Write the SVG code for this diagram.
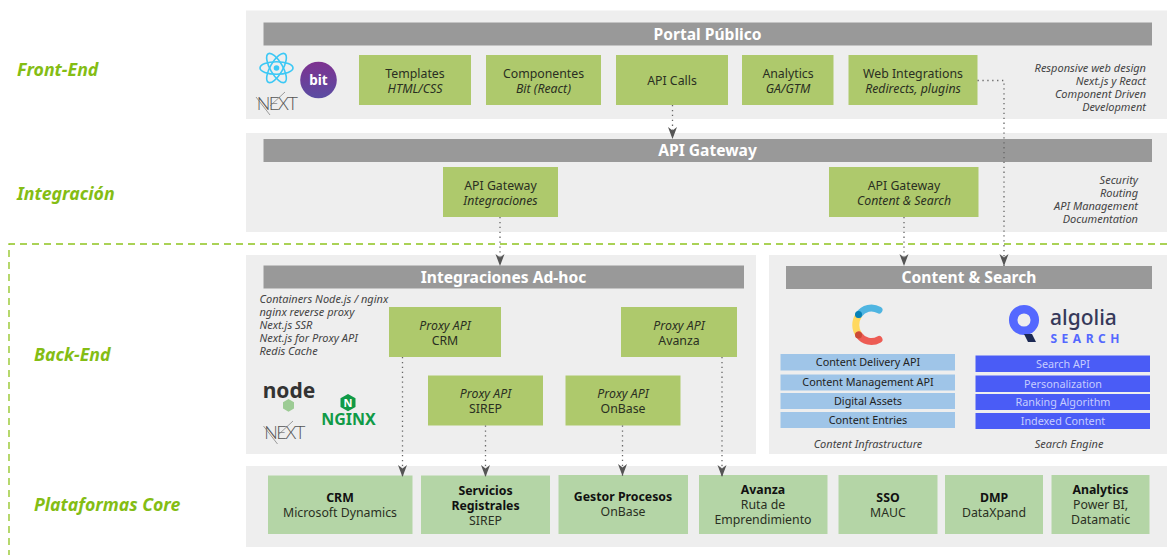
<svg xmlns="http://www.w3.org/2000/svg" width="1167" height="555" viewBox="0 0 1167 555">
<style>
text{font-family:"Noto Sans","Open Sans","Liberation Sans",sans-serif;text-anchor:middle}
.panel{fill:#eeeeee}
.bar{fill:#999999}
.bart{fill:#fff;font-size:15.600px;font-weight:700}
.g{fill:#aec96c}
.c{fill:#b4d5a6}
.t{fill:#2a2f22;font-size:12.300px}
.i{font-style:italic}
.b{font-weight:700;fill:#111}
.note{fill:#444;font-size:11px;font-style:italic}
.r{text-anchor:end}
.l{text-anchor:start}
.layer{fill:#84bd14;font-size:17.700px;font-weight:700;font-style:italic;text-anchor:start}
.lb{fill:#9fc5e8}
.db{fill:#4a5cf6}
.s{font-size:10.800px;fill:#222}
.sw{font-size:10.800px;fill:#c6ccff}
.con{fill:none;stroke:#666;stroke-width:1.300;stroke-dasharray:1.300 3.600}
.zone{fill:none;stroke:#8fc31f;stroke-width:1.300;stroke-dasharray:7 5}
.next{font-family:Lato,Roboto,sans-serif;font-weight:300;font-size:18px;letter-spacing:-1.500px;fill:#555}
</style>
<defs>
<marker id="ahv" markerUnits="userSpaceOnUse" markerWidth="13" markerHeight="10" refX="12" refY="5" orient="auto" viewBox="0 0 13 10"><path d="M0 0.500L12 5L0 9.500L3.500 5Z" fill="#555"/></marker>
<linearGradient id="bitg" x1="0" y1="0" x2="0" y2="1"><stop offset="0" stop-color="#7e3290"/><stop offset="1" stop-color="#5a4ca2"/></linearGradient>
</defs>

<g id="zone-boundary"><path class="zone" d="M1167 244H9V555"/></g>

<g id="layer-labels">
<text class="layer" x="17" y="75.500">Front-End</text>
<text class="layer" x="17" y="200">Integración</text>
<text class="layer" x="34" y="360.500">Back-End</text>
<text class="layer" x="34" y="510.500">Plataformas Core</text>
</g>

<g id="portal-publico">
<rect class="panel" x="246" y="10.500" width="921" height="108.500"/>
<rect class="bar" x="263.500" y="22.500" width="888.500" height="23"/>
<text class="bart" x="707.500" y="39.500">Portal Público</text>
<text class="note r" x="1146" y="71.500">Responsive web design</text>
<text class="note r" x="1146" y="84.500">Next.js y React</text>
<text class="note r" x="1146" y="97.500">Component Driven</text>
<text class="note r" x="1146" y="110.500">Development</text>
</g>
<g id="logo-react" fill="none" stroke="#3cc8f5" stroke-width="1.600">
<ellipse cx="276.500" cy="68" rx="16.500" ry="6.200"/>
<ellipse cx="276.500" cy="68" rx="16.500" ry="6.200" transform="rotate(60 276.500 68)"/>
<ellipse cx="276.500" cy="68" rx="16.500" ry="6.200" transform="rotate(120 276.500 68)"/>
<circle cx="276.500" cy="68" r="2.800" fill="#3cc8f5" stroke="none"/>
</g>
<g id="logo-bit"><circle cx="318.500" cy="80" r="18.300" fill="url(#bitg)"/><text x="318.500" y="85" fill="#fff" font-size="13.500" font-weight="700">bit</text></g>
<g id="logo-next-front"><text class="next" x="276.500" y="109.500">NEXT</text><path d="M256 97L270 115M285 92L270 106" fill="none" stroke="#777" stroke-width=".7"/></g>

<g id="templates"><rect class="g" x="359" y="55" width="112" height="50"/><text class="t" x="415" y="77.500">Templates</text><text class="t i" x="415" y="92.500">HTML/CSS</text></g>
<g id="componentes"><rect class="g" x="486" y="55" width="115" height="50"/><text class="t" x="543.500" y="77.500">Componentes</text><text class="t i" x="543.500" y="92.500">Bit (React)</text></g>
<g id="api-calls"><rect class="g" x="616" y="55" width="112" height="50"/><text class="t" x="672" y="85">API Calls</text></g>
<g id="analytics"><rect class="g" x="742" y="55" width="91.500" height="50"/><text class="t" x="788" y="77.500">Analytics</text><text class="t i" x="788" y="92.500">GA/GTM</text></g>
<g id="web-integrations"><rect class="g" x="848.500" y="55" width="129" height="50"/><text class="t" x="913" y="77.500">Web Integrations</text><text class="t i" x="913" y="92.500">Redirects, plugins</text></g>

<g id="api-gateway">
<rect class="panel" x="246" y="133" width="921" height="99"/>
<rect class="bar" x="263.500" y="139" width="888.500" height="23"/>
<text class="bart" x="707.500" y="156">API Gateway</text>
<text class="note r" x="1138" y="183.500">Security</text>
<text class="note r" x="1138" y="196.500">Routing</text>
<text class="note r" x="1138" y="209.500">API Management</text>
<text class="note r" x="1138" y="222.500">Documentation</text>
</g>
<g id="gw-integraciones"><rect class="g" x="443" y="167" width="115" height="50"/><text class="t" x="500.500" y="189.500">API Gateway</text><text class="t i" x="500.500" y="204.500">Integraciones</text></g>
<g id="gw-content"><rect class="g" x="829" y="167" width="149.500" height="50"/><text class="t" x="904" y="189.500">API Gateway</text><text class="t i" x="904" y="204.500">Content &amp; Search</text></g>

<g id="integraciones-adhoc">
<rect class="panel" x="246" y="255" width="510" height="199"/>
<rect class="bar" x="263.500" y="265.500" width="480.500" height="23"/>
<text class="bart" x="503.500" y="283">Integraciones Ad-hoc</text>
<text class="note l" x="259.500" y="302.500">Containers Node.js / nginx</text>
<text class="note l" x="259.500" y="316">nginx reverse proxy</text>
<text class="note l" x="259.500" y="329">Next.js SSR</text>
<text class="note l" x="259.500" y="342">Next.js for Proxy API</text>
<text class="note l" x="259.500" y="355">Redis Cache</text>
</g>
<g id="logo-node"><text x="289" y="398" fill="#333" font-size="21" font-weight="700">node</text><path d="M288.500 399l5.500 3.200v6.400l-5.500 3.200-5.500-3.200v-6.400z" fill="#9ccb94"/></g>
<g id="logo-nginx"><path d="M348 394l7.500 4.300v8.600l-7.500 4.300-7.500-4.300v-8.600z" fill="#109a47"/><text x="348" y="406.500" fill="#fff" font-size="11" font-weight="700">N</text><text x="348.500" y="425" fill="#109a47" font-size="16" font-weight="700">NGINX</text></g>
<g id="logo-next-back"><text class="next" x="284" y="439">NEXT</text><path d="M263.500 426L277.500 444M293 421L278 435" fill="none" stroke="#777" stroke-width=".7"/></g>

<g id="proxy-crm"><rect class="g" x="389" y="307" width="112" height="50"/><text class="t i" x="445" y="329.500">Proxy API</text><text class="t" x="445" y="344.500">CRM</text></g>
<g id="proxy-avanza"><rect class="g" x="621" y="307" width="116" height="50"/><text class="t i" x="679" y="329.500">Proxy API</text><text class="t" x="679" y="344.500">Avanza</text></g>
<g id="proxy-sirep"><rect class="g" x="428" y="375.500" width="115" height="50"/><text class="t i" x="485.500" y="398">Proxy API</text><text class="t" x="485.500" y="413">SIREP</text></g>
<g id="proxy-onbase"><rect class="g" x="565.500" y="375.500" width="115" height="50"/><text class="t i" x="623" y="398">Proxy API</text><text class="t" x="623" y="413">OnBase</text></g>

<g id="content-search">
<rect class="panel" x="769" y="255" width="398" height="199"/>
<rect class="bar" x="786" y="266" width="366" height="23"/>
<text class="bart" x="969" y="283">Content &amp; Search</text>
</g>
<g id="logo-contentful" fill="none" stroke-width="7" stroke-linecap="round">
<path d="M859 315A17 17 0 0 0 859 335" stroke="#ffd85f"/>
<path d="M859 314.500A15 15 0 0 1 879 310" stroke="#4fb5e1"/>
<path d="M859 335A15 15 0 0 0 879 339.500" stroke="#ed5c54"/>
<circle cx="858.500" cy="314.500" r="3.500" fill="#0681b6" stroke="none"/>
<circle cx="858.500" cy="335" r="3.500" fill="#cc4a36" stroke="none"/>
</g>
<g id="logo-algolia">
<circle cx="1024" cy="320" r="10.800" fill="none" stroke="#5468ff" stroke-width="8.500"/>
<path d="M1024 334h8l4 8h-8z" fill="#1d2a55"/>
<text class="l" x="1050" y="325" fill="#36395a" font-size="21" font-weight="500">algolia</text>
<text class="l" x="1050.500" y="343" fill="#5468ff" font-size="12" font-weight="700" style="letter-spacing:4.500px">SEARCH</text>
</g>
<g id="contentful-stack">
<rect class="lb" x="780.500" y="354" width="174.500" height="16.500"/><text class="s" x="868" y="366">Content Delivery API</text>
<rect class="lb" x="780.500" y="374.500" width="174.500" height="16"/><text class="s" x="868" y="386">Content Management API</text>
<rect class="lb" x="780.500" y="393" width="174.500" height="16"/><text class="s" x="868" y="405">Digital Assets</text>
<rect class="lb" x="780.500" y="412" width="174.500" height="16"/><text class="s" x="868" y="424">Content Entries</text>
<text class="note" x="868" y="447.500">Content Infrastructure</text>
</g>
<g id="algolia-stack">
<rect class="db" x="975.500" y="355.500" width="174.500" height="16.500"/><text class="sw" x="1063" y="368">Search API</text>
<rect class="db" x="975.500" y="375.500" width="174.500" height="16.500"/><text class="sw" x="1063" y="387.500">Personalization</text>
<rect class="db" x="975.500" y="394" width="174.500" height="16"/><text class="sw" x="1063" y="406">Ranking Algorithm</text>
<rect class="db" x="975.500" y="413" width="174.500" height="16"/><text class="sw" x="1063" y="425">Indexed Content</text>
<text class="note" x="1069" y="448">Search Engine</text>
</g>

<g id="plataformas-core"><rect class="panel" x="246" y="466" width="921" height="81"/></g>
<g id="core-crm"><rect class="c" x="268" y="475.500" width="144.500" height="58.500"/><text class="t b" x="340" y="502">CRM</text><text class="t" x="340" y="517">Microsoft Dynamics</text></g>
<g id="core-servicios"><rect class="c" x="421" y="475.500" width="129" height="58.500"/><text class="t b" x="485.500" y="494.500">Servicios</text><text class="t b" x="485.500" y="510">Registrales</text><text class="t" x="485.500" y="525">SIREP</text></g>
<g id="core-gestor"><rect class="c" x="558.500" y="475" width="129.500" height="59"/><text class="t b" x="623" y="501">Gestor Procesos</text><text class="t" x="623" y="516">OnBase</text></g>
<g id="core-avanza"><rect class="c" x="699" y="475" width="128.500" height="59"/><text class="t b" x="763" y="494">Avanza</text><text class="t" x="763" y="509">Ruta de</text><text class="t" x="763" y="524">Emprendimiento</text></g>
<g id="core-sso"><rect class="c" x="838.500" y="475" width="99" height="59"/><text class="t b" x="888" y="502">SSO</text><text class="t" x="888" y="517">MAUC</text></g>
<g id="core-dmp"><rect class="c" x="945" y="475" width="98" height="59"/><text class="t b" x="994" y="502">DMP</text><text class="t" x="994" y="517">DataXpand</text></g>
<g id="core-analytics"><rect class="c" x="1051.500" y="475" width="98" height="59"/><text class="t b" x="1100.500" y="494">Analytics</text><text class="t" x="1100.500" y="509">Power BI,</text><text class="t" x="1100.500" y="524">Datamatic</text></g>

<g id="connectors">
<path class="con" marker-end="url(#ahv)" d="M672.500 105V139"/>
<path class="con" marker-end="url(#ahv)" d="M977.500 80.500H1004V266"/>
<path class="con" marker-end="url(#ahv)" d="M500 217V266"/>
<path class="con" marker-end="url(#ahv)" d="M904 217V266"/>
<path class="con" marker-end="url(#ahv)" d="M402.500 357V477"/>
<path class="con" marker-end="url(#ahv)" d="M485.500 425.500V477"/>
<path class="con" marker-end="url(#ahv)" d="M622.500 425.500V476"/>
<path class="con" marker-end="url(#ahv)" d="M722 357V477"/>
</g>
</svg>
